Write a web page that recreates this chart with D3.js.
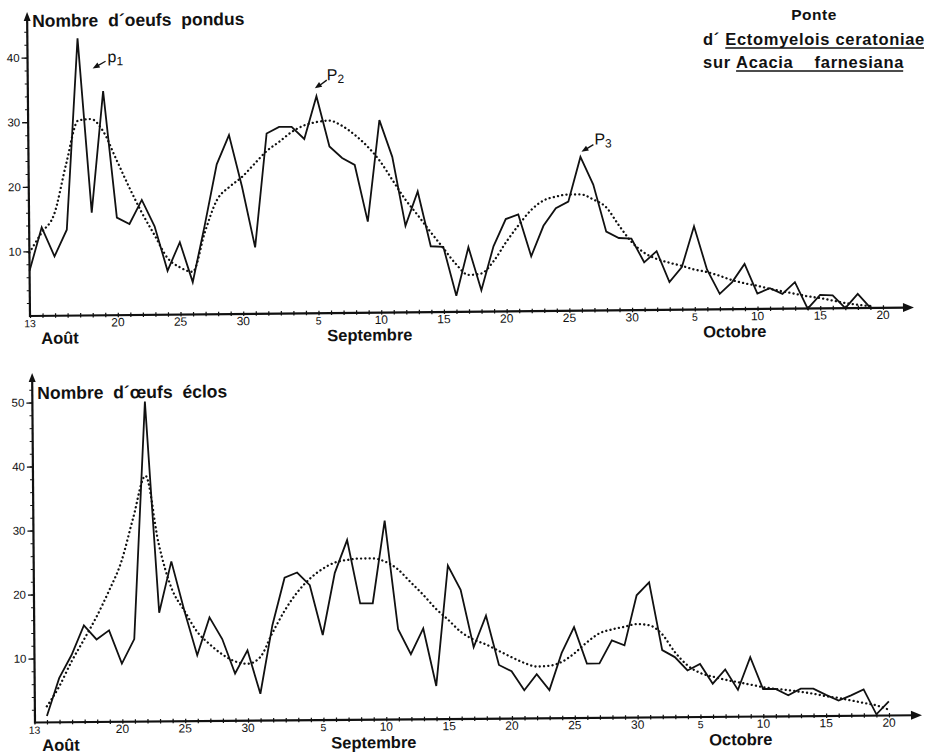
<!DOCTYPE html>
<html>
<head>
<meta charset="utf-8">
<script src="https://cdn.jsdelivr.net/npm/d3@7"></script>
<style>
  body { margin: 0; background: #fff; }
  text { font-family: "Liberation Sans", Arial, sans-serif; fill: #111; }
</style>
</head>
<body>
<svg id="chart" width="941" height="755"></svg>
<script>
// days are counted from 13 August (day 0) to 20 October (day 68)
const tickDays = [0, 7, 12, 17, 23, 28, 33, 38, 43, 48, 53, 58, 63, 68];
const tickLabels = ["13", "20", "25", "30", "5", "10", "15", "20", "25", "30", "5", "10", "15", "20"];
const monthNames = ["Août", "Septembre", "Octobre"];

// eggs laid, day 0 .. 67
const pondus = [7, 13.7, 9.2, 13.3, 42.9, 15.9, 34.7, 15.1, 14.1, 17.8,
  13.7, 6.8, 11.2, 5, 13.8, 23.2, 27.7, 19.7, 10.3, 27.9,
  28.9, 28.9, 27, 33.6, 25.8, 24, 22.9, 14.1, 29.8, 24.1,
  13.4, 18.7, 10.2, 10.1, 2.5, 10, 3.3, 10.1, 14.3, 15,
  8.5, 13.2, 15.9, 16.9, 23.8, 19.5, 12.2, 11.2, 11.1, 7.4,
  9.1, 4.3, 6.6, 12.9, 6.2, 2.4, 4.2, 7, 2.4, 3.2,
  2.3, 4.1, 0, 2.1, 2, 0, 2.2, 0];
const pondusTrend = [9.8, 12.9, 15.7, 23.5, 30.2, 30.4, 28.4, 24.1, 19.8, 15.8,
  12.3, 8.8, 7.3, 6.6, 12.7, 17.7, 19.7, 21.2, 23.2, 25.2,
  26.6, 28.1, 29.1, 29.6, 29.8, 29, 27.6, 25.8, 23.5, 20.5,
  17.5, 15, 12.4, 9.9, 7.4, 5.7, 5.9, 7.8, 10.7, 13.3,
  15.6, 17.1, 17.7, 18, 18, 17.2, 16, 13.2, 10.6, 8.9,
  7.9, 7.3, 6.8, 6.2, 5.8, 5.2, 4.5, 4, 3.6, 3.1,
  2.7, 2.3, 1.9, 1.6, 1.2, 0.8, 0.5, 0.3];

// eggs hatched, day 1 .. 68
const eclos = [1, 6.9, 10.5, 15.1, 12.9, 14.3, 9.1, 12.9, 50, 17,
  25, 17.3, 10.3, 16.2, 12.8, 7.4, 11, 4.2, 14.9, 22.3,
  23.1, 21.1, 13.3, 23, 28.1, 18.2, 18.2, 31.1, 14.1, 10.2,
  14.2, 5.2, 24, 20.2, 11.2, 16.1, 8.4, 7.4, 4.4, 6.9,
  4.4, 10.2, 14.2, 8.5, 8.5, 12.1, 11.3, 19.1, 21.1, 10.5,
  9.4, 7.3, 8.3, 5.2, 7.4, 4.2, 9.3, 4.3, 4.3, 3.3,
  4.3, 4.3, 3.3, 2.4, 3.2, 4.1, 0.2, 2.2];
const eclosTrend = [2.5, 5.6, 9.5, 12.9, 16.4, 20.4, 24.9, 31.9, 38.4, 27.8,
  20.8, 17.3, 14, 12, 10.4, 9.3, 8.9, 9.9, 13.7, 17.2,
  20, 22.1, 23.6, 24.6, 25, 25.2, 25.2, 24.7, 23.5, 21.5,
  19.5, 17.3, 15.5, 13.6, 12.4, 11.6, 10.6, 9.6, 8.7, 8.1,
  8.2, 8.8, 10.1, 11.8, 13.2, 13.8, 14.2, 14.6, 14.4, 13,
  10.2, 8.1, 6.9, 6.3, 5.8, 5.4, 5, 4.6, 4.3, 4.1,
  3.8, 3.5, 3.1, 2.8, 2.4, 2, 1.6, 0.9];

const svg = d3.select("#chart");

function drawPanel(o) {
  // the scanned figure is slightly tilted
  const g = svg.append("g").attr("transform", `rotate(${o.tilt},${o.axisX},${o.y0})`);

  const x = d3.scaleLinear().domain([0, 68]).range([o.x0, o.x68]);
  const y = d3.scaleLinear().domain([0, o.ymax]).range([o.y0, o.y0 - o.ymax * o.unit]);

  // daily ticks on the x axis
  const xa = g.append("g")
    .attr("transform", `translate(0,${o.y0 + 1.5})`)
    .call(d3.axisBottom(x).tickValues(d3.range(0, 69)).tickSize(3).tickSizeOuter(0).tickFormat(""));
  xa.select(".domain").remove();
  xa.selectAll("line").attr("y1", -4).attr("y2", 0.5).attr("stroke", "#111").attr("stroke-width", 1.2);

  // y axis ticks
  const ya = g.append("g")
    .attr("transform", `translate(${o.axisX},0)`)
    .call(d3.axisLeft(y).tickValues(d3.range(2, o.ymax + 1, 2)).tickSize(3).tickFormat(""));
  ya.select(".domain").remove();
  ya.selectAll("line").attr("stroke", "#111").attr("stroke-width", 1);
  const yb = g.append("g")
    .attr("transform", `translate(${o.axisX},0)`)
    .call(d3.axisLeft(y).tickValues(o.yLabels).tickSize(6).tickPadding(2));
  yb.select(".domain").remove();
  yb.selectAll("line").attr("stroke", "#111").attr("stroke-width", 1.3);
  yb.selectAll("text")
    .style("font-family", "'Liberation Sans', Arial, sans-serif")
    .style("font-size", "11.5px").attr("fill", "#111");

  // axes lines with arrow heads
  g.append("line").attr("x1", o.axisX).attr("x2", o.xEnd - 6)
    .attr("y1", o.y0).attr("y2", o.y0).attr("stroke", "#111").attr("stroke-width", 2.2);
  g.append("path")
    .attr("d", `M${o.xEnd},${o.y0}L${o.xEnd - 11},${o.y0 - 4.5}L${o.xEnd - 11},${o.y0 + 4.5}Z`)
    .attr("fill", "#111");
  g.append("line").attr("x1", o.axisX).attr("x2", o.axisX)
    .attr("y1", o.y0 + 1).attr("y2", o.yEnd + 5).attr("stroke", "#111").attr("stroke-width", 2.2);
  g.append("path")
    .attr("d", `M${o.axisX},${o.yEnd}L${o.axisX - 3.5},${o.yEnd + 9}L${o.axisX + 3.5},${o.yEnd + 9}Z`)
    .attr("fill", "#111");

  // tick labels
  const small = i => tickLabels[i].length === 1 || i === 0;
  g.selectAll("text.tick-label")
    .data(tickDays)
    .enter()
    .append("text")
    .attr("class", "tick-label")
    .attr("x", d => x(d))
    .attr("y", o.y0 + 11.2)
    .attr("text-anchor", "middle")
    .style("font-size", (d, i) => (small(i) ? "10.5px" : "12px"))
    .text((d, i) => tickLabels[i]);

  // month names
  g.selectAll("text.month")
    .data(monthNames)
    .enter()
    .append("text")
    .attr("class", "month")
    .attr("x", (d, i) => o.monthX[i])
    .attr("y", o.monthY)
    .style("font-size", "16.5px")
    .style("font-weight", "bold")
    .text(d => d);

  // panel title
  g.append("text")
    .attr("x", o.axisX + 5)
    .attr("y", o.titleY)
    .style("font-size", "17.5px")
    .style("font-weight", "bold")
    .style("word-spacing", "5px")
    .text(o.title);

  // smoothed trend (dotted) and daily counts (solid)
  const line = d3.line()
    .x((d, i) => x(i + o.firstDay))
    .y(d => y(d));
  g.append("path")
    .datum(o.trend)
    .attr("d", line.curve(d3.curveMonotoneX))
    .attr("fill", "none")
    .attr("stroke", "#111")
    .attr("stroke-width", 2.3)
    .attr("stroke-linecap", "round")
    .attr("stroke-dasharray", "0.1,4.2");
  g.append("path")
    .datum(o.values)
    .attr("d", line.curve(d3.curveLinear))
    .attr("fill", "none")
    .attr("stroke", "#111")
    .attr("stroke-width", 1.8)
    .attr("stroke-linejoin", "miter");

  return { g, x, y };
}

const topPanel = drawPanel({
  tilt: -0.55, axisX: 30, x0: 30, x68: 883, y0: 316, unit: 6.46, ymax: 44,
  yLabels: [10, 20, 30, 40], xEnd: 914, yEnd: 12,
  monthX: [41, 327, 703], monthY: 344, titleY: 27,
  title: "Nombre d\u00b4oeufs pondus",
  firstDay: 0, values: pondus, trend: pondusTrend
});

drawPanel({
  tilt: -0.47, axisX: 35, x0: 34.4, x68: 889, y0: 722.5, unit: 6.4, ymax: 52,
  yLabels: [10, 20, 30, 40, 50], xEnd: 922, yEnd: 373,
  monthX: [42, 331, 709], monthY: 751, titleY: 399,
  title: "Nombre d\u00b4\u0153ufs \u00e9clos",
  firstDay: 1, values: eclos, trend: eclosTrend
});

// peak annotations on the upper panel
const peaks = [
  { name: "p", sub: "1", tx: 110, ty: 63, ax: [108, 62, 95, 69] },
  { name: "P", sub: "2", tx: 329, ty: 83, ax: [329, 83, 317, 91] },
  { name: "P", sub: "3", tx: 596, ty: 150, ax: [595, 150, 583, 157] }
];
peaks.forEach(p => {
  const t = topPanel.g.append("text").attr("x", p.tx).attr("y", p.ty).style("font-size", "16px");
  t.append("tspan").text(p.name);
  t.append("tspan").attr("dy", 3).style("font-size", "12px").text(p.sub);
  const [x1, y1, x2, y2] = p.ax;
  topPanel.g.append("line").attr("x1", x1).attr("y1", y1).attr("x2", x2 + 3).attr("y2", y2 - 1.5)
    .attr("stroke", "#111").attr("stroke-width", 1.3);
  const ang = Math.atan2(y2 - y1, x2 - x1);
  const hx = x2 - 7 * Math.cos(ang), hy = y2 - 7 * Math.sin(ang);
  const nx = -Math.sin(ang) * 2.8, ny = Math.cos(ang) * 2.8;
  topPanel.g.append("path")
    .attr("d", `M${x2},${y2}L${hx + nx},${hy + ny}L${hx - nx},${hy - ny}Z`)
    .attr("fill", "#111");
});

// title block, top right
const tb = svg.append("g");
tb.append("text").attr("x", 814).attr("y", 20).attr("text-anchor", "middle")
  .style("font-size", "15.5px").style("font-weight", "bold").style("letter-spacing", "0.5px").text("Ponte");

function underlinedLine(prefix, words, x, yb) {
  const t1 = tb.append("text").attr("x", x).attr("y", yb)
    .style("font-size", "16.5px").style("font-weight", "bold").style("letter-spacing", "0.7px")
    .style("white-space", "pre").text(prefix);
  const x2 = x + t1.node().getComputedTextLength();
  const t2 = tb.append("text").attr("x", x2).attr("y", yb)
    .style("font-size", "16.5px").style("font-weight", "bold").style("letter-spacing", "0.7px")
    .style("white-space", "pre").text(words);
  const w = t2.node().getComputedTextLength();
  tb.append("line").attr("x1", x2).attr("x2", x2 + w - 1).attr("y1", yb + 3).attr("y2", yb + 3)
    .attr("stroke", "#111").attr("stroke-width", 1.3);
}
underlinedLine("d\u00b4 ", "Ectomyelois ceratoniae", 703, 45);
underlinedLine("sur ", "Acacia    farnesiana", 703, 68);
</script>
</body>
</html>
